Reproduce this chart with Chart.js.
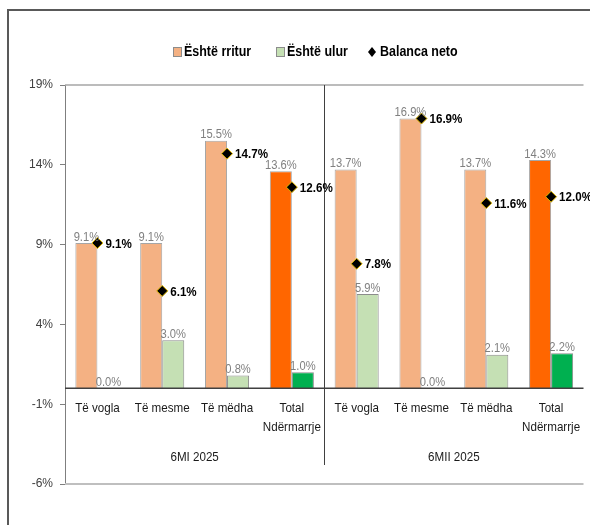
<!DOCTYPE html>
<html><head><meta charset="utf-8">
<script src="https://cdn.jsdelivr.net/npm/chart.js@4"></script>
<style>html,body{margin:0;padding:0;background:#fff;overflow:hidden}canvas{display:block}</style>
</head><body>
<canvas id="c" width="590" height="525"></canvas>
<script>
const categories = ['Të vogla','Të mesme','Të mëdha',['Total','Ndërmarrje'],'Të vogla','Të mesme','Të mëdha',['Total','Ndërmarrje']];
const periods = ['6MI 2025','6MII 2025'];
const rritur = [9.1, 9.1, 15.5, 13.6, 13.7, 16.9, 13.7, 14.3];
const ulur = [0.0, 3.0, 0.8, 1.0, 5.9, 0.0, 2.1, 2.2];
const balanca = [9.1, 6.1, 14.7, 12.6, 7.8, 16.9, 11.6, 12.0];
const yTicks = [-6, -1, 4, 9, 14, 19];
const seriesNames = ['Është rritur','Është ulur','Balanca neto'];

const FONT = '"Liberation Sans",Arial,sans-serif';
const SQ = 0.86; // horizontal condensing to mimic a narrow face
const orangeC = ['#F4B183','#F4B183','#F4B183','#FF6600','#F4B183','#F4B183','#F4B183','#FF6600'];
const greenC = ['#C5E0B4','#C5E0B4','#C5E0B4','#00B050','#C5E0B4','#C5E0B4','#C5E0B4','#00B050'];
const fmt = v => v.toFixed(1) + '%';

function txt(ctx, s, x, y, align) {
  ctx.save();
  ctx.translate(x, y);
  ctx.scale(SQ, 1);
  ctx.textAlign = align;
  ctx.fillText(s, 0, 0);
  ctx.restore();
}

const decor = {
  id: 'decor',
  afterDraw(chart) {
    const ctx = chart.ctx, ca = chart.chartArea;
    const x = chart.scales.x, y = chart.scales.y;
    const y0 = y.getPixelForValue(0);
    ctx.save();
    // outer frame
    ctx.strokeStyle = '#595959'; ctx.lineWidth = 2;
    ctx.beginPath(); ctx.moveTo(8, 530); ctx.lineTo(8, 10); ctx.lineTo(595, 10); ctx.stroke();
    // top & bottom plot lines
    ctx.strokeStyle = '#A6A6A6'; ctx.lineWidth = 1.5;
    ctx.beginPath(); ctx.moveTo(ca.left, ca.top); ctx.lineTo(ca.right, ca.top); ctx.stroke();
    ctx.strokeStyle = '#BFBFBF'; ctx.lineWidth = 2;
    ctx.beginPath(); ctx.moveTo(ca.left, ca.bottom); ctx.lineTo(ca.right, ca.bottom); ctx.stroke();
    // zero axis
    ctx.strokeStyle = '#404040'; ctx.lineWidth = 1.5;
    ctx.beginPath(); ctx.moveTo(ca.left, y0); ctx.lineTo(ca.right, y0); ctx.stroke();
    // separator
    const sx = Math.round((x.getPixelForValue(3) + x.getPixelForValue(4)) / 2) + 0.5;
    ctx.strokeStyle = '#404040'; ctx.lineWidth = 1;
    ctx.beginPath(); ctx.moveTo(sx, ca.top); ctx.lineTo(sx, 465); ctx.stroke();
    // category labels
    ctx.fillStyle = '#1a1a1a'; ctx.font = '13.5px ' + FONT;
    ctx.textBaseline = 'middle';
    categories.forEach((c, i) => {
      const lines = Array.isArray(c) ? c : [c];
      lines.forEach((l, j) => txt(ctx, l, x.getPixelForValue(i), y0 + 20 + j * 19, 'center'));
    });
    periods.forEach((p, g) => {
      const cx = (x.getPixelForValue(g * 4) + x.getPixelForValue(g * 4 + 3)) / 2;
      txt(ctx, p, cx, 457, 'center');
    });
    // bar value labels
    ctx.fillStyle = '#808080'; ctx.font = '13px ' + FONT;
    [0, 1].forEach(d => {
      const meta = chart.getDatasetMeta(d);
      const vals = chart.data.datasets[d].data;
      meta.data.forEach((el, i) => txt(ctx, fmt(vals[i]), el.x, el.y - 6, 'center'));
    });
    // balance labels
    ctx.fillStyle = '#000'; ctx.font = 'bold 13.5px ' + FONT;
    const m2 = chart.getDatasetMeta(2);
    m2.data.forEach((el, i) => txt(ctx, fmt(balanca[i]), el.x + 8, el.y + 1, 'left'));
    // legend
    const ly = 52;
    ctx.font = 'bold 14.5px ' + FONT; ctx.textBaseline = 'middle';
    ctx.lineWidth = 1; ctx.strokeStyle = '#8c8c8c';
    ctx.fillStyle = '#F4B183'; ctx.fillRect(173.5, ly - 4.5, 8, 9); ctx.strokeRect(173.5, ly - 4.5, 8, 9);
    ctx.fillStyle = '#000'; txt(ctx, seriesNames[0], 184, ly, 'left');
    ctx.fillStyle = '#C5E0B4'; ctx.fillRect(276.5, ly - 4.5, 8, 9); ctx.strokeRect(276.5, ly - 4.5, 8, 9);
    ctx.fillStyle = '#000'; txt(ctx, seriesNames[1], 287, ly, 'left');
    ctx.beginPath(); ctx.moveTo(372, ly - 5); ctx.lineTo(376, ly); ctx.lineTo(372, ly + 5); ctx.lineTo(368, ly); ctx.closePath();
    ctx.fillStyle = '#000'; ctx.fill();
    txt(ctx, seriesNames[2], 380, ly, 'left');
    ctx.restore();
  }
};

new Chart(document.getElementById('c'), {
  type: 'bar',
  data: {
    labels: categories.map(c => Array.isArray(c) ? c.join(' ') : c),
    datasets: [
      { label: seriesNames[0], data: rritur, backgroundColor: orangeC, borderColor: '#A6A6A6', borderWidth: 1, order: 2, categoryPercentage: 0.68, barPercentage: 1 },
      { label: seriesNames[1], data: ulur, backgroundColor: greenC, borderColor: '#8C8C8C', borderWidth: 1, order: 2, categoryPercentage: 0.68, barPercentage: 1 },
      { type: 'line', label: seriesNames[2], data: balanca, showLine: false, pointStyle: 'rectRot', pointRadius: 5.5, pointBackgroundColor: '#000', pointBorderColor: '#E0B800', pointBorderWidth: 1, order: 0 }
    ]
  },
  options: {
    responsive: false, animation: false, devicePixelRatio: 1,
    layout: { padding: { top: 85, bottom: 41, left: 0, right: 0 } },
    plugins: { legend: { display: false }, tooltip: { enabled: false } },
    scales: {
      x: { display: false, offset: true },
      y: {
        min: -6, max: 19,
        afterBuildTicks: s => { s.ticks = yTicks.map(v => ({ value: v })); },
        afterFit: s => { s.width = 65; },
        ticks: { callback: v => v + '%', color: '#404040', font: { family: FONT, size: 12 }, padding: 7 },
        grid: { drawOnChartArea: false, drawTicks: true, tickLength: 5, color: '#7F7F7F' },
        border: { color: '#7F7F7F', width: 1 }
      }
    }
  },
  plugins: [decor]
});
</script>
</body></html>
